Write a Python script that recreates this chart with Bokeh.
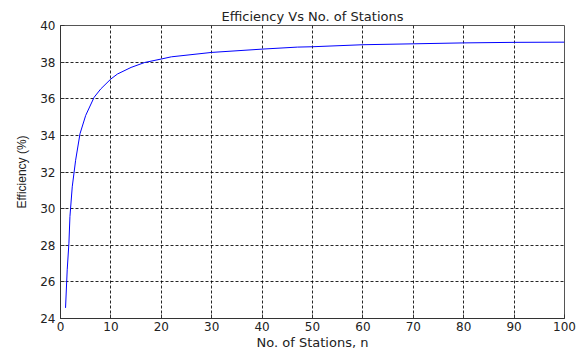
from bokeh.plotting import figure
from bokeh.embed import file_html
from bokeh.resources import INLINE
from bokeh.models import Range1d, FixedTicker

stations = [1, 1.33, 1.67, 1.87, 2.33, 3, 3.87, 5, 6.67, 8, 10, 11.3, 14, 16.7, 20, 22,
            30, 40, 47, 50, 60, 70, 80, 90, 100]
efficiency = [24.58, 26.66, 28.11, 29.56, 31.19, 32.64, 34.09, 35.09, 36.08, 36.54, 37.08,
              37.35, 37.71, 37.98, 38.17, 38.29, 38.53, 38.71, 38.82, 38.84, 38.95, 39.0,
              39.05, 39.08, 39.09]
x_ticks = [0, 10, 20, 30, 40, 50, 60, 70, 80, 90, 100]
y_ticks = [24, 26, 28, 30, 32, 34, 36, 38, 40]

FONT = "DejaVu Sans"

p = figure(width=580, height=352, output_backend="svg", toolbar_location=None,
           title="Efficiency Vs No. of Stations",
           x_range=Range1d(0, 100), y_range=Range1d(24, 40),
           min_border_left=60, min_border_right=16, min_border_top=25, min_border_bottom=33)

p.line(stations, efficiency, line_color="#0000FF", line_width=1)

p.title.align = "center"
p.title.text_font = FONT
p.title.text_font_size = "13px"
p.title.text_font_style = "normal"
p.title.text_color = "#222222"
p.title.standoff = 3

p.xaxis.ticker = FixedTicker(ticks=x_ticks)
p.yaxis.ticker = FixedTicker(ticks=y_ticks)
p.xaxis.axis_label = "No. of Stations, n"
p.yaxis.axis_label = "Efficiency (%)"
for ax in (p.xaxis, p.yaxis):
    ax.axis_label_text_font_style = "normal"
    ax.axis_label_text_color = "#222222"
    ax.major_label_text_font = FONT
    ax.major_label_text_font_size = "12px"
    ax.major_label_text_color = "#222222"
    ax.major_tick_in = 4
    ax.major_tick_out = 0
    ax.minor_tick_line_color = None
    ax.axis_line_color = "#333333"
    ax.major_tick_line_color = "#333333"
p.xaxis.axis_label_text_font = FONT
p.xaxis.axis_label_text_font_size = "13px"
p.yaxis.axis_label_text_font = "Liberation Sans"
p.yaxis.axis_label_text_font_size = "12px"
p.xaxis.major_label_standoff = 3
p.yaxis.major_label_standoff = 5
p.xaxis.axis_label_standoff = 1
p.yaxis.axis_label_standoff = 8

for g in (p.xgrid, p.ygrid):
    g.grid_line_color = "#000000"
    g.grid_line_dash = "3 2"
    g.grid_line_width = 1
    g.grid_line_alpha = 0.85

p.outline_line_color = "#555555"
p.outline_line_width = 1
p.background_fill_color = "white"
p.border_fill_color = "white"

open("out.html", "w").write(file_html(p, INLINE))
